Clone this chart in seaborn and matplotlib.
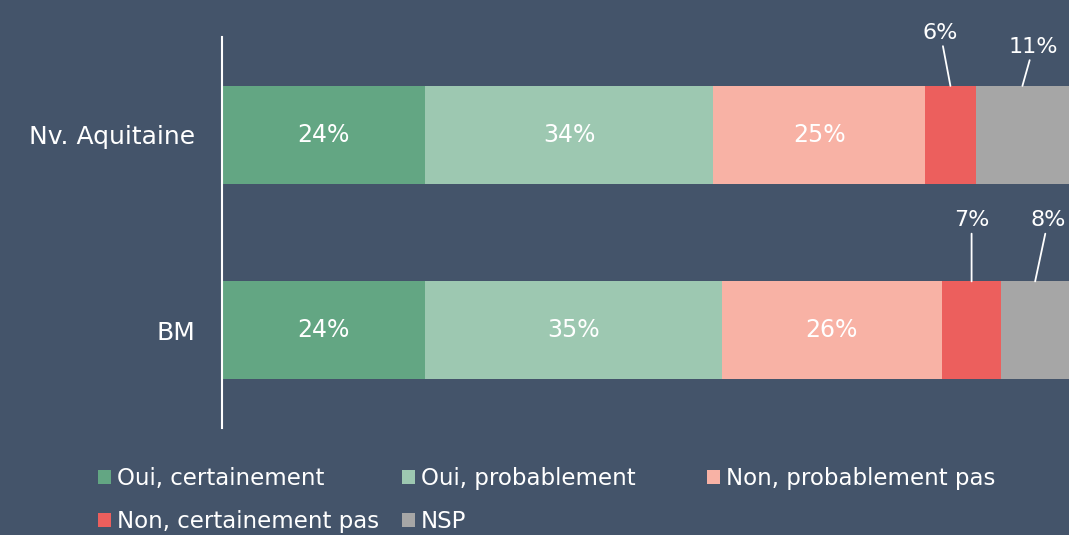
import pandas as pd
import matplotlib.pyplot as plt
import seaborn as sns
from matplotlib.patches import Patch

# Data (percent of respondents)
regions = ["Nv. Aquitaine", "BM"]
responses = ["Oui, certainement", "Oui, probablement", "Non, probablement pas",
             "Non, certainement pas", "NSP"]
oui_certainement = [24, 24]
oui_probablement = [34, 35]
non_probablement = [25, 26]
non_certainement = [6, 7]
nsp = [11, 8]
colors = ["#63A683", "#9DC8B1", "#F8B2A5", "#EC5F5D", "#A6A6A6"]

bg = "#44546A"
sns.set_theme(style="white")
plt.rcParams["font.family"] = ["DejaVu Sans"]

df = pd.DataFrame({
    "Region": regions,
    responses[0]: oui_certainement,
    responses[1]: oui_probablement,
    responses[2]: non_probablement,
    responses[3]: non_certainement,
    responses[4]: nsp,
})
cum = df[responses].cumsum(axis=1)

fig = plt.figure(figsize=(10.69, 5.35), dpi=100, facecolor=bg)
ax = fig.add_axes([222 / 1069, 0.2, 1 - 222 / 1069, 0.7308])
ax.set_facecolor(bg)

# Stacked bars: draw cumulative totals from the widest to the narrowest
for resp, col in reversed(list(zip(responses, colors))):
    sns.barplot(x=cum[resp], y=df["Region"], orient="h", color=col, saturation=1,
                width=0.5, linewidth=0, ax=ax)

ax.set_xlim(0, 100)
ax.set_ylim(1.5, -0.5)

# Labels: inside for big segments, leader lines for small ones
label_offsets = {  # pixel offsets of the outside labels from the bar top
    (0, 3): (-10, 53), (0, 4): (11, 39),
    (1, 3): (0, 61), (1, 4): (13, 61),
}
for i in range(len(regions)):
    for j, resp in enumerate(responses):
        val = df.loc[i, resp]
        xc = cum.loc[i, resp] - val / 2
        if (i, j) in label_offsets:
            ax.annotate(f"{val}%", xy=(xc, i - 0.25), xytext=label_offsets[(i, j)],
                        textcoords="offset pixels", ha="center", va="center",
                        color="white", fontsize=16, annotation_clip=False,
                        arrowprops=dict(arrowstyle="-", color="white", lw=1.3,
                                        shrinkA=0, shrinkB=0))
        else:
            ax.text(xc, i, f"{val}%", ha="center", va="center", color="white", fontsize=17)

for s in ["top", "right", "bottom"]:
    ax.spines[s].set_visible(False)
ax.spines["left"].set_color("white")
ax.spines["left"].set_linewidth(1.5)
ax.set_xticks([])
ax.set_xlabel("")
ax.set_ylabel("")
ax.tick_params(axis="y", length=0, pad=19, labelsize=18, labelcolor="white")

# Legend laid out row by row like the original (third column placed apart)
handles = [Patch(facecolor=c, edgecolor="none") for c in colors]
leg_kw = dict(loc="upper left", frameon=False, fontsize=16.5, labelcolor="white",
              handlelength=0.57, handleheight=0.57, handletextpad=0.25,
              borderpad=0, borderaxespad=0, labelspacing=0.88, columnspacing=1.0)
order = [0, 3, 1, 4]
fig.legend([handles[k] for k in order], [responses[k] for k in order],
           bbox_to_anchor=(98 / 1069, 1 - 467 / 535), ncol=2, **leg_kw)
fig.legend([handles[2]], [responses[2]],
           bbox_to_anchor=(707 / 1069, 1 - 467 / 535), **leg_kw)

fig.savefig("out.png", dpi=100, facecolor=bg)
